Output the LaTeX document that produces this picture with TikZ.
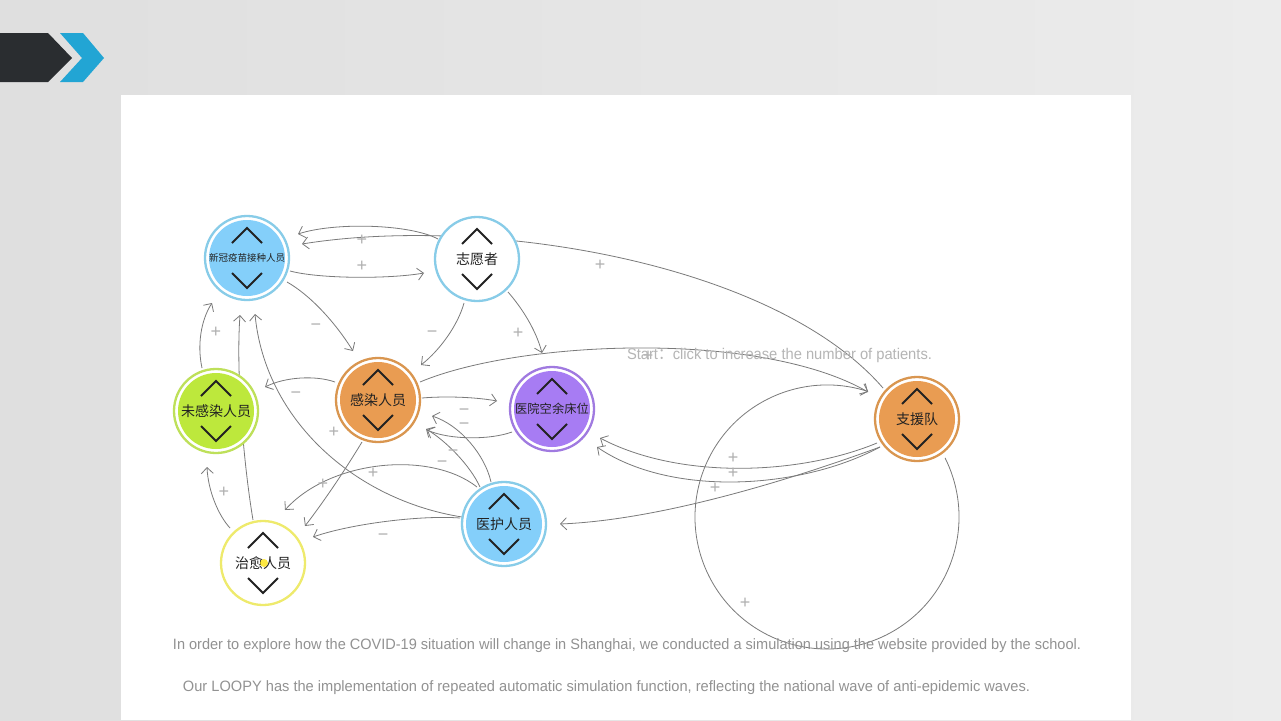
\documentclass[tikz,border=0pt]{standalone}
\usepackage{fontspec}
\usepackage{graphicx}
\setmainfont{Liberation Sans}
\newfontfamily\cjk{Noto Sans CJK SC}
\usetikzlibrary{arrows.meta,calc}
\pgfdeclarelayer{bg}
\pgfdeclarelayer{edges}
\pgfsetlayers{bg,edges,main}
\definecolor{bgl}{HTML}{DFDFDF}
\definecolor{bgr}{HTML}{ECECEC}
\definecolor{hdark}{HTML}{2A2D30}
\definecolor{hblue}{HTML}{22A5D4}
\definecolor{edgec}{HTML}{7A7A7A}
\definecolor{signc}{HTML}{B0B0B0}
\definecolor{txtc}{HTML}{222222}
\definecolor{botc}{HTML}{929292}
\definecolor{startc}{HTML}{B5B5B5}
\definecolor{blueF}{HTML}{84CFFA}
\definecolor{blueR}{HTML}{88CCE8}
\definecolor{oranF}{HTML}{E99C52}
\definecolor{oranR}{HTML}{D99650}
\definecolor{purpF}{HTML}{A77CF3}
\definecolor{purpR}{HTML}{A07AE0}
\definecolor{grnF}{HTML}{BDE83C}
\definecolor{grnR}{HTML}{BEE05A}
\definecolor{yelR}{HTML}{EEEA6C}
\newcommand\loopynode[7]{%
  \node[circle,minimum size=84pt,inner sep=0pt,draw=#4,line width=2.3pt,fill=white] (#1) at (#2,#3) {};
  \fill[#5] (#1.center) circle[radius=38];
  \draw[chev] ($(#1.center)+(-15,-15)$) -- ($(#1.center)+(0,-30)$) -- ($(#1.center)+(15,-15)$);
  \draw[chev] ($(#1.center)+(-15,15)$) -- ($(#1.center)+(0,30)$) -- ($(#1.center)+(15,15)$);
  \node[font=\cjk\fontsize{#6}{#6}\selectfont,text=txtc,inner sep=0pt] (#1-t) at (#1.center) {#7};
}
\begin{document}
\begin{tikzpicture}[x=1pt,y=-1pt,
  chev/.style={draw=txtc,line width=1.9pt},
  edge/.style={draw=edgec,line width=0.8pt,-{Straight Barb[length=6pt,width=12pt,line width=0.8pt]}},
  sign/.style={text=signc,inner sep=0pt,text height=5pt,text depth=0pt},
  plus/.style={sign,font=\fontsize{18}{18}\selectfont,yshift=-3pt},
  minus/.style={sign,font=\fontsize{18}{18}\selectfont,yshift=-3pt},
  bottxt/.style={text=botc,font=\fontsize{15}{15}\selectfont,inner sep=0pt},
]
\useasboundingbox (0,0) rectangle (1281,720);
\begin{pgfonlayer}{bg}
\shade[left color=bgl,right color=bgr] (0,0) rectangle (1281,720);
\fill[white] (121,95) rectangle (1131,720);
\fill[hdark] (0,33) -- (48,33) -- (72,58) -- (48,82) -- (0,82) -- cycle;
\fill[hblue] (60,33) -- (83,33) -- (104,58) -- (83,82) -- (60,82) -- (82,58) -- cycle;
\end{pgfonlayer}

% nodes
\loopynode{vac}{247}{258}{blueR}{blueF}{9.5}{新冠疫苗接种人员}
\loopynode{zyz}{477}{259}{blueR}{white}{14}{志愿者}
\loopynode{gr}{378}{400}{oranR}{oranF}{14}{感染人员}
\loopynode{bed}{552}{409}{purpR}{purpF}{12.3}{医院空余床位}
\loopynode{ung}{216}{411}{grnR}{grnF}{14}{未感染人员}
\loopynode{cu}{263}{563}{yelR}{white}{14}{治愈人员}
\loopynode{hs}{504}{524}{blueR}{blueF}{14}{医护人员}
\loopynode{zyd}{917}{419}{oranR}{oranF}{14}{支援队}
\fill[yellow!85!orange,opacity=0.75] (264,563) circle[radius=4];

\coordinate (loopc) at (827,517);

\begin{pgfonlayer}{edges}
\draw[edge] ($(zyd)+(-34,-31)$) .. controls (773,261) and (482,215) .. ($(vac)+(55,-14)$);
\draw[edge] ($(zyz)+(-39,-20)$) .. controls (410,224) and (335,222) .. ($(vac)+(51,-24)$);
\draw[edge] ($(vac)+(43,13)$) .. controls (320,279) and (390,279) .. ($(zyz)+(-53,14)$);
\draw[edge] ($(vac)+(40,24)$) .. controls (310,295) and (335,322) .. ($(gr)+(-25,-49)$);
\draw[edge] ($(zyz)+(-13,44)$) .. controls (458,325) and (440,350) .. ($(gr)+(43,-35)$);
\draw[edge] ($(zyz)+(31,33)$) .. controls (522,308) and (536,330) .. ($(bed)+(-10,-56)$);
\draw[edge] ($(gr)+(42,-18)$) .. controls (520,340) and (760,330) .. ($(zyd)+(-49,-27)$);
\draw[edge] (loopc) ++(-26.6:132) arc[start angle=-26.6,end angle=288.2,radius=132];
\draw[edge] ($(gr)+(44,-2)$) .. controls (445,396) and (475,397) .. ($(bed)+(-55,-8)$);
\draw[edge] ($(bed)+(-40,23)$) .. controls (490,440) and (450,440) .. ($(gr)+(49,30)$);
\draw[edge] ($(hs)+(-13,-42)$) .. controls (485,455) and (460,425) .. ($(gr)+(54,16)$);
\draw[edge] ($(hs)+(-24,-37)$) .. controls (470,465) and (445,440) .. ($(gr)+(48,29)$);
\draw[edge] ($(gr)+(-43,-18)$) .. controls (315,375) and (285,377) .. ($(ung)+(49,-24)$);
\draw[edge] ($(ung)+(-14,-43)$) .. controls (197,345) and (201,320) .. ($(vac)+(-35,45)$);
\draw[edge] ($(cu)+(-10,-43)$) .. controls (243,460) and (236,370) .. ($(vac)+(-7,57)$);
\draw[edge] ($(cu)+(-33,-35)$) .. controls (218,515) and (208,490) .. ($(ung)+(-9,56)$);
\draw[edge] ($(hs)+(-42,-7)$) .. controls (355,500) and (265,420) .. ($(vac)+(8,56)$);
\draw[edge] ($(gr)+(-16,42)$) .. controls (345,470) and (325,500) .. ($(cu)+(42,-37)$);
\draw[edge] ($(hs)+(-27,-37)$) .. controls (430,450) and (330,460) .. ($(cu)+(22,-53)$);
\draw[edge] ($(hs)+(-44,-6)$) .. controls (420,515) and (350,524) .. ($(cu)+(50,-26)$);
\draw[edge] ($(zyd)+(-40,24)$) .. controls (800,475) and (680,480) .. ($(bed)+(48,29)$);
\draw[edge] ($(zyd)+(-37,28)$) .. controls (800,490) and (670,497) .. ($(bed)+(45,38)$);
\draw[edge] ($(zyd)+(-37,28)$) .. controls (790,480) and (660,520) .. ($(hs)+(56,0)$);
\end{pgfonlayer}

% signs
\node[plus] (s1) at (362,240) {+};
\node[plus] (s2) at (362,266) {+};
\node[plus] (s3) at (600,265) {+};
\node[minus] (s4) at (316,325) {−};
\node[minus] (s5) at (432,332) {−};
\node[plus] (s6) at (518,333) {+};
\node[plus] (s7) at (216,332) {+};
\node[minus] (s8) at (296,393) {−};
\node[minus] (s9) at (464,410) {−};
\node[minus] (s10) at (464,424) {−};
\node[minus] (s11) at (453,451) {−};
\node[minus] (s12) at (442,462) {−};
\node[plus] (s13) at (334,432) {+};
\node[plus] (s14) at (373,473) {+};
\node[plus] (s15) at (323,484) {+};
\node[plus] (s16) at (224,492) {+};
\node[minus] (s17) at (383,535) {−};
\node[plus] (s18) at (733,458) {+};
\node[plus] (s19) at (733,473) {+};
\node[plus] (s20) at (715,488) {+};
\node[plus] (s21) at (745,603) {+};
\node[plus] (s22) at (648,356) {+};

% texts
\node[text=startc,font=\fontsize{15.5}{15.5}\selectfont,inner sep=0pt] (start) at (779.5,355)
  {\resizebox{305pt}{\height}{Start{\cjk ：}click to increase the number of patients.}};
\node[bottxt] (b1) at (627,646)
  {\resizebox{908pt}{\height}{In order to explore how the COVID-19 situation will change in Shanghai, we conducted a simulation using the website provided by the school.}};
\node[bottxt] (b2) at (606.5,688)
  {\resizebox{847pt}{\height}{Our LOOPY has the implementation of repeated automatic simulation function, reflecting the national wave of anti-epidemic waves.}};
\end{tikzpicture}
\end{document}
